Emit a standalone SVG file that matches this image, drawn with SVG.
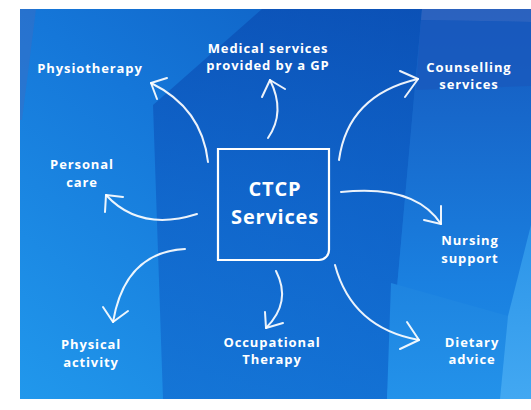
<svg xmlns="http://www.w3.org/2000/svg" width="531" height="410" viewBox="0 0 531 410">
  <defs>
    <linearGradient id="bgBase" x1="0" y1="1" x2="1" y2="0">
      <stop offset="0" stop-color="#2198ec"/>
      <stop offset="0.5" stop-color="#1577d9"/>
      <stop offset="1" stop-color="#0c56ba"/>
    </linearGradient>
    <linearGradient id="bandCenter" x1="0" y1="0" x2="0" y2="1">
      <stop offset="0" stop-color="#0a4cb2"/>
      <stop offset="0.5" stop-color="#0e5ec5"/>
      <stop offset="1" stop-color="#116bd0"/>
    </linearGradient>
    <linearGradient id="bandRight" x1="0" y1="0" x2="0" y2="1">
      <stop offset="0" stop-color="#1558bd"/>
      <stop offset="0.7" stop-color="#1a80e0"/>
      <stop offset="1" stop-color="#1e8ee8"/>
    </linearGradient>
    <linearGradient id="bandRightLow" x1="0" y1="0" x2="0" y2="1">
      <stop offset="0" stop-color="#1e84e0"/>
      <stop offset="1" stop-color="#2392ea"/>
    </linearGradient>
    <linearGradient id="facetCorner" x1="0" y1="0" x2="0" y2="1">
      <stop offset="0" stop-color="#2c94e8"/>
      <stop offset="1" stop-color="#42a8f2"/>
    </linearGradient>
    <style>
      .arrow { fill: none; stroke: #ffffff; stroke-width: 2; stroke-linecap: round; stroke-linejoin: round; opacity: 0.92; }
      .label { font-family: "Open Sans", "Liberation Sans", sans-serif; font-weight: 700; font-size: 13px; fill: #ffffff; text-anchor: middle; letter-spacing: 0.9px; }
      .title { font-family: "Open Sans", "Liberation Sans", sans-serif; font-weight: 700; font-size: 20px; fill: #ffffff; text-anchor: middle; letter-spacing: 0.8px; }
      .box { fill: none; stroke: #ffffff; stroke-width: 2.2; }
    </style>
  </defs>

  <!-- faceted blue backdrop -->
  <g id="backdrop">
    <rect x="0" y="0" width="531" height="410" fill="#ffffff"/>
    <rect x="20" y="9" width="511" height="390" fill="url(#bgBase)"/>
    <polygon points="20,9 36,9 22,120 20,120" fill="#3d6dc2" opacity="0.45"/>
    <polygon points="153,105 262,9 422,9 387,399 163,399" fill="url(#bandCenter)" opacity="0.7"/>
    <polygon points="422,9 531,9 531,399 387,399" fill="url(#bandRight)"/>
    <polygon points="422,9 531,9 531,22 421,20" fill="#3567bf" opacity="0.7"/>
    <polygon points="421,20 531,22 531,86 416,90" fill="#1a58bc" opacity="0.7"/>
    <polygon points="391,283 508,316 500,399 387,399" fill="url(#bandRightLow)"/>
    <polygon points="531,225 531,399 500,399 508,316" fill="url(#facetCorner)"/>
  </g>

  <!-- central node -->
  <g id="node-ctcp">
    <path class="box" d="M218,149 H329 V250 A10,10 0 0 1 319,260 H218 Z"/>
    <text class="title" x="275" y="196">CTCP</text>
    <text class="title" x="275" y="224">Services</text>
  </g>

  <!-- outer nodes -->
  <g id="node-physiotherapy">
    <text class="label" x="90" y="73">Physiotherapy</text>
  </g>
  <g id="node-gp">
    <text class="label" x="268" y="53">Medical services</text>
    <text class="label" x="268" y="70">provided by a GP</text>
  </g>
  <g id="node-counselling">
    <text class="label" x="469" y="72">Counselling</text>
    <text class="label" x="469" y="89">services</text>
  </g>
  <g id="node-personal-care">
    <text class="label" x="82" y="169">Personal</text>
    <text class="label" x="82" y="187">care</text>
  </g>
  <g id="node-nursing">
    <text class="label" x="470" y="245">Nursing</text>
    <text class="label" x="470" y="263">support</text>
  </g>
  <g id="node-physical-activity">
    <text class="label" x="91" y="349">Physical</text>
    <text class="label" x="91" y="367">activity</text>
  </g>
  <g id="node-occupational">
    <text class="label" x="272" y="347">Occupational</text>
    <text class="label" x="272" y="364">Therapy</text>
  </g>
  <g id="node-dietary">
    <text class="label" x="472" y="347">Dietary</text>
    <text class="label" x="472" y="364">advice</text>
  </g>

  <!-- curved connectors with open heads -->
  <g id="connectors">
    <path class="arrow" d="M208,162 Q202,108 151,83"/>
    <path class="arrow" d="M167,78 L151,83 L157,99"/>

    <path class="arrow" d="M268,138 Q286,112 270,80"/>
    <path class="arrow" d="M262,97 L270,80 L285,89"/>

    <path class="arrow" d="M339,160 Q348,95 418,79"/>
    <path class="arrow" d="M400,71 L418,79 L405,97"/>

    <path class="arrow" d="M341,192 Q415,184 441,224"/>
    <path class="arrow" d="M441,206 L441,224 L424,220"/>

    <path class="arrow" d="M335,265 Q352,328 419,340"/>
    <path class="arrow" d="M407,322 L419,340 L400,349"/>

    <path class="arrow" d="M276,271 Q292,302 266,328"/>
    <path class="arrow" d="M265,312 L266,328 L283,323"/>

    <path class="arrow" d="M185,249 Q125,252 113,322"/>
    <path class="arrow" d="M103,307 L113,322 L128,311"/>

    <path class="arrow" d="M197,214 Q140,232 106,195"/>
    <path class="arrow" d="M123,197 L106,195 L105,212"/>
  </g>
</svg>
